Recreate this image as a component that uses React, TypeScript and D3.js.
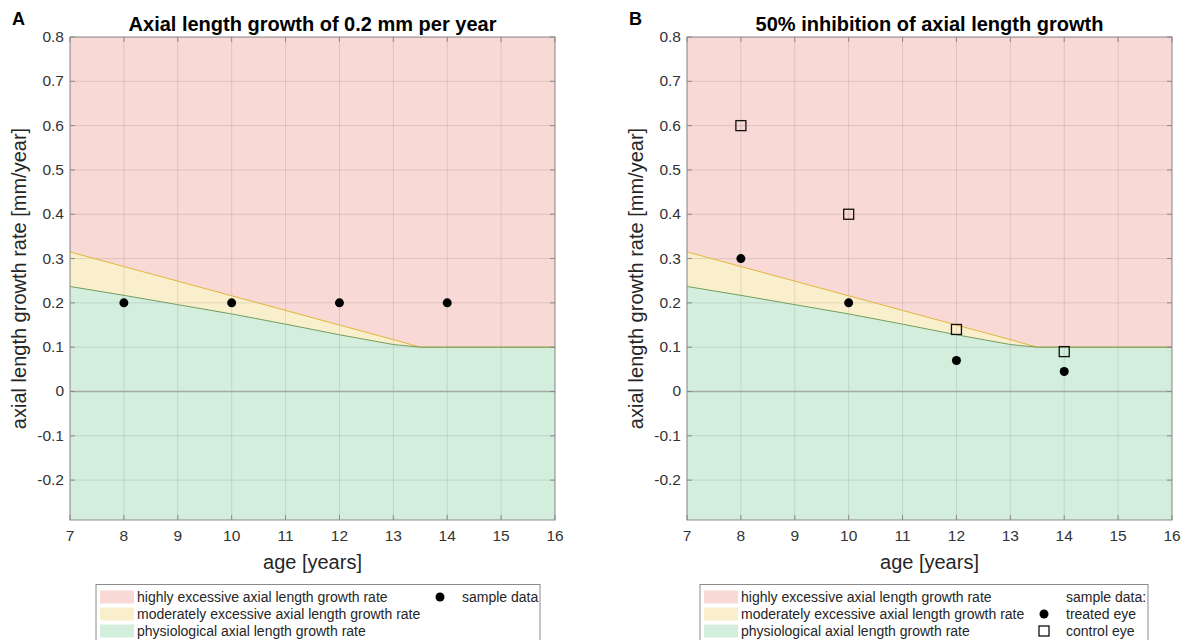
import React from 'react';
import * as d3 from 'd3';

// values
const ageTicks = [7, 8, 9, 10, 11, 12, 13, 14, 15, 16];
const rateTicks = [-0.2, -0.1, 0, 0.1, 0.2, 0.3, 0.4, 0.5, 0.6, 0.7, 0.8];
const boundaryAges = [7, 8, 9, 10, 11, 12, 13, 13.5, 16];
const highlyLimit = [0.315, 0.282, 0.249, 0.216, 0.183, 0.15, 0.117, 0.1, 0.1];
const physioLimit = [0.237, 0.217, 0.196, 0.175, 0.152, 0.128, 0.106, 0.1, 0.1];
const sampleAges = [8, 10, 12, 14];
const sampleRateA = [0.2, 0.2, 0.2, 0.2];
const treatedRateB = [0.3, 0.2, 0.07, 0.045];
const controlRateB = [0.6, 0.4, 0.14, 0.09];
const zoneLabels = [
  'highly excessive axial length growth rate',
  'moderately excessive axial length growth rate',
  'physiological axial length growth rate',
];

const font = '"Liberation Sans", Arial, Helvetica, sans-serif';
const zoneColors = ['#f8d9d6', '#faefcd', '#d4eede'];
const top = 37, bottom = 520, plotW = 485;
const ageDomain = [7, 16], rateDomain = [-0.29, 0.8];

type PanelProps = {
  id: string; left: number; letter: string; title: string; kind: 'A' | 'B';
  legendX: number; legendW: number;
};

const Panel = ({ id, left, letter, title, kind, legendX, legendW }: PanelProps) => {
  const x = d3.scaleLinear().domain(ageDomain).range([left, left + plotW]);
  const y = d3.scaleLinear().domain(rateDomain).range([bottom, top]);
  const bnd = boundaryAges.map((a, i) => ({ a, hi: highlyLimit[i], lo: physioLimit[i] }));

  const pink = d3.area<any>().x(d => x(d.a)).y0(d => y(d.hi)).y1(() => y(rateDomain[1]))(bnd);
  const yellow = d3.area<any>().x(d => x(d.a)).y0(d => y(d.lo)).y1(d => y(d.hi))(bnd);
  const green = d3.area<any>().x(d => x(d.a)).y0(() => y(rateDomain[0])).y1(d => y(d.lo))(bnd);
  const hiLine = d3.line<any>().x(d => x(d.a)).y(d => y(d.hi))(bnd);
  const loLine = d3.line<any>().x(d => x(d.a)).y(d => y(d.lo))(bnd);
  const tickLen = 5;
  // plain hyphen for negatives, like the reference
  const fmt = (v: number) => (v === 0 ? '0' : d3.format('.1f')(v).replace('\u2212', '-'));

  const rows = [597, 614, 631];
  return (
    <g>
      <defs>
        <clipPath id={`clip${id}`}>
          <rect x={left} y={top} width={plotW} height={bottom - top} />
        </clipPath>
      </defs>
      <g clipPath={`url(#clip${id})`}>
        <path d={pink!} fill={zoneColors[0]} />
        <path d={yellow!} fill={zoneColors[1]} />
        <path d={green!} fill={zoneColors[2]} />
        {ageTicks.map(t => (
          <line key={'gx' + t} x1={x(t)} x2={x(t)} y1={top} y2={bottom} stroke="#000" strokeOpacity={0.1} />
        ))}
        {rateTicks.map(t => (
          <line key={'gy' + t} x1={left} x2={left + plotW} y1={y(t)} y2={y(t)} stroke="#000" strokeOpacity={0.1} />
        ))}
        <line x1={left} x2={left + plotW} y1={y(0)} y2={y(0)} stroke="#a8a8a8" strokeWidth={1.5} />
        <path d={hiLine!} fill="none" stroke="#e3b53a" strokeWidth={1} />
        <path d={loLine!} fill="none" stroke="#739d5e" strokeWidth={1} />
      </g>
      <rect x={left} y={top} width={plotW} height={bottom - top} fill="none" stroke="#8a8a8a" />
      {ageTicks.map(t => (
        <g key={'tx' + t}>
          <line x1={x(t)} x2={x(t)} y1={bottom} y2={bottom - tickLen} stroke="#8a8a8a" />
          <line x1={x(t)} x2={x(t)} y1={top} y2={top + tickLen} stroke="#8a8a8a" />
          <text x={x(t)} y={bottom + 21} textAnchor="middle" fontSize={15.5} fill="#333" fontFamily={font}>{t}</text>
        </g>
      ))}
      {rateTicks.map(t => (
        <g key={'ty' + t}>
          <line x1={left} x2={left + tickLen} y1={y(t)} y2={y(t)} stroke="#8a8a8a" />
          <line x1={left + plotW} x2={left + plotW - tickLen} y1={y(t)} y2={y(t)} stroke="#8a8a8a" />
          <text x={left - 6} y={y(t) + 5} textAnchor="end" fontSize={15.5} fill="#333" fontFamily={font}>{fmt(t)}</text>
        </g>
      ))}

      {kind === 'A' &&
        sampleAges.map((a, i) => <circle key={'s' + a} cx={x(a)} cy={y(sampleRateA[i])} r={4.5} fill="#000" />)}
      {kind === 'B' && (
        <>
          {sampleAges.map((a, i) => (
            <rect key={'c' + a} x={x(a) - 5} y={y(controlRateB[i]) - 5} width={10} height={10}
              fill="none" stroke="#111" strokeWidth={1.3} />
          ))}
          {sampleAges.map((a, i) => <circle key={'t' + a} cx={x(a)} cy={y(treatedRateB[i])} r={4.5} fill="#000" />)}
        </>
      )}

      <text x={left + plotW / 2} y={31} textAnchor="middle" fontSize={20} fontWeight="bold" fill="#000" fontFamily={font}>{title}</text>
      <text x={left - 58} y={25} fontSize={18} fontWeight="bold" fill="#000" fontFamily={font}>{letter}</text>
      <text x={left + plotW / 2} y={569} textAnchor="middle" fontSize={20} fill="#262626" fontFamily={font}>age [years]</text>
      <text transform={`translate(${left - 44},${(top + bottom) / 2}) rotate(-90)`} textAnchor="middle"
        fontSize={20} fill="#262626" fontFamily={font}>axial length growth rate [mm/year]</text>

      {/* legend */}
      <rect x={legendX} y={584.5} width={legendW} height={60} fill="#fff" stroke="#8a8a8a" />
      {zoneLabels.map((lab, i) => (
        <g key={lab}>
          <rect x={legendX + 4} y={rows[i] - 6.5} width={34} height={13} fill={zoneColors[i]} />
          <text x={legendX + 41} y={rows[i] + 5} fontSize={14} fill="#262626" fontFamily={font}>{lab}</text>
        </g>
      ))}
      {kind === 'A' && (
        <>
          <circle cx={legendX + 344} cy={rows[0]} r={4.5} fill="#000" />
          <text x={legendX + 366} y={rows[0] + 5} fontSize={14} fill="#262626" fontFamily={font}>sample data</text>
        </>
      )}
      {kind === 'B' && (
        <>
          <text x={legendX + 366} y={rows[0] + 5} fontSize={14} fill="#262626" fontFamily={font}>sample data:</text>
          <circle cx={legendX + 344} cy={rows[1]} r={4.5} fill="#000" />
          <text x={legendX + 366} y={rows[1] + 5} fontSize={14} fill="#262626" fontFamily={font}>treated eye</text>
          <rect x={legendX + 339} y={rows[2] - 5} width={10} height={10} fill="none" stroke="#111" strokeWidth={1.3} />
          <text x={legendX + 366} y={rows[2] + 5} fontSize={14} fill="#262626" fontFamily={font}>control eye</text>
        </>
      )}
    </g>
  );
};

export default function App() {
  return (
    <svg width={1186} height={640} style={{ position: 'absolute', left: 0, top: 0, background: '#fff' }}>
      <Panel id="a" left={70} letter="A" title="Axial length growth of 0.2 mm per year" kind="A" legendX={96} legendW={444} />
      <Panel id="b" left={687} letter="B" title="50% inhibition of axial length growth" kind="B" legendX={700} legendW={448} />
    </svg>
  );
}
